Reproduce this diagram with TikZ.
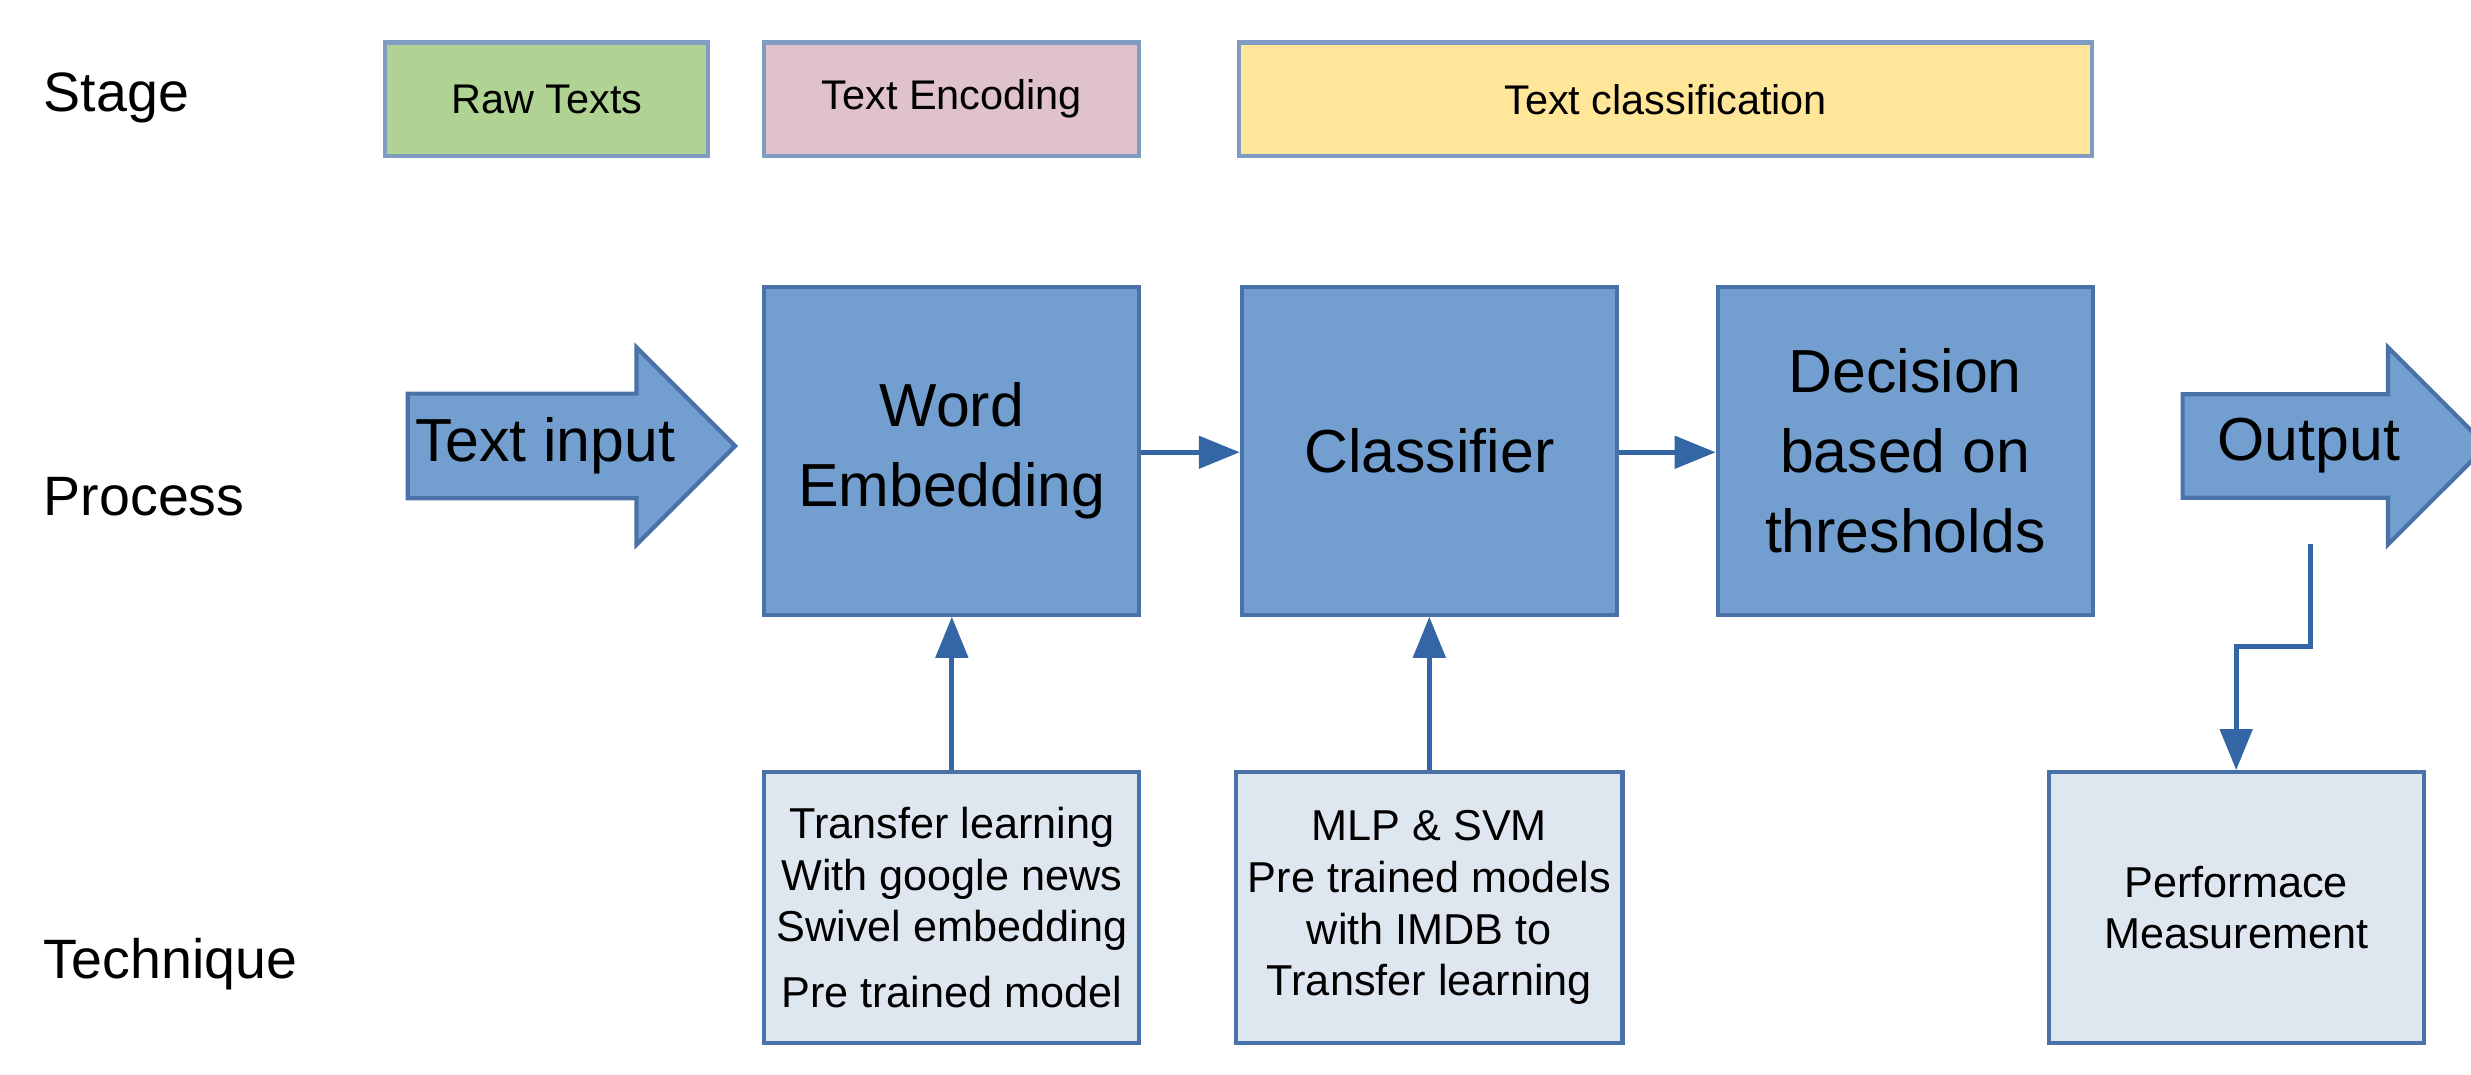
\documentclass[tikz,border=0pt]{standalone}
\usepackage{fontspec}
\setmainfont{Liberation Sans}
\usetikzlibrary{shapes.arrows,arrows.meta}
\definecolor{pb}{HTML}{729FCF}
\definecolor{pbd}{HTML}{4A72A8}
\definecolor{ab}{HTML}{3465A4}
\definecolor{tb}{HTML}{DEE6EF}
\begin{document}
\begin{tikzpicture}[x=0.01576cm,y=-0.01576cm,
  lbl/.style={anchor=west,font=\fontsize{15.8}{19}\selectfont},
  stage/.style={draw=pbd!70,line width=1.2pt,minimum height=1.135cm,font=\fontsize{11.8}{14}\selectfont},
  proc/.style={draw=pbd,fill=pb,line width=1.2pt,minimum width=3.75cm,minimum height=3.28cm,align=center,font=\fontsize{17.3}{22.8}\selectfont},
  tech/.style={draw=pbd,fill=tb,line width=1.2pt,minimum width=3.75cm,minimum height=2.71cm,align=center,font=\fontsize{12.3}{14.7}\selectfont},
  bigarr/.style={single arrow,draw=pbd,fill=pb,line width=1.2pt,minimum height=3.04cm,minimum width=1.97cm,single arrow head extend=0.315cm,font=\fontsize{17.3}{20.5}\selectfont,inner sep=1.5pt},
  con/.style={draw=ab,line width=1.4pt,-{Triangle[length=0.41cm,width=0.32cm]}}]
\useasboundingbox (0,0) rectangle (1568,682);
\node[lbl] (s) at (20,62) {Stage};
\node[lbl] (p) at (20,315) {Process};
\node[lbl] (t) at (20,612) {Technique};
\node[stage,fill={rgb,255:red,176;green,211;blue,147},minimum width=3.23cm] (raw) at (347,63) {Raw Texts};
\node[stage,fill={rgb,255:red,224;green,194;blue,205},minimum width=3.75cm] (enc) at (604,63) {Text Encoding};
\node[stage,fill={rgb,255:red,255;green,230;blue,153},minimum width=8.53cm] (cls) at (1057,63) {Text classification};
\node[bigarr] (in) at (346,283) {Text input\hspace{6mm}};
\node[proc] (we) at (604,286) {Word\\Embedding};
\node[proc] (c) at (907,286) {Classifier};
\node[proc] (d) at (1209,286) {Decision\\based on\\thresholds};
\node[bigarr] (out) at (1465,283) {Output\hspace{5mm}};
\node[tech] (t1) at (604,576) {Transfer learning\\With google news\\Swivel embedding\\[4pt]Pre trained model};
\node[tech] (t2) at (907,576) {MLP \& SVM\\Pre trained models\\with IMDB to\\Transfer learning};
\node[tech] (t3) at (1419,576) {Performace\\Measurement};
\draw[con] (we.east |- 0,287) -- (c.west |- 0,287);
\draw[con] (c.east |- 0,287) -- (d.west |- 0,287);
\draw[con] (t1) -- (we);
\draw[con] (t2) -- (c);
\coordinate (o1) at (1466,345);
\draw[con] (o1) -- (1466,410) -| (t3.north);
\end{tikzpicture}
\end{document}
